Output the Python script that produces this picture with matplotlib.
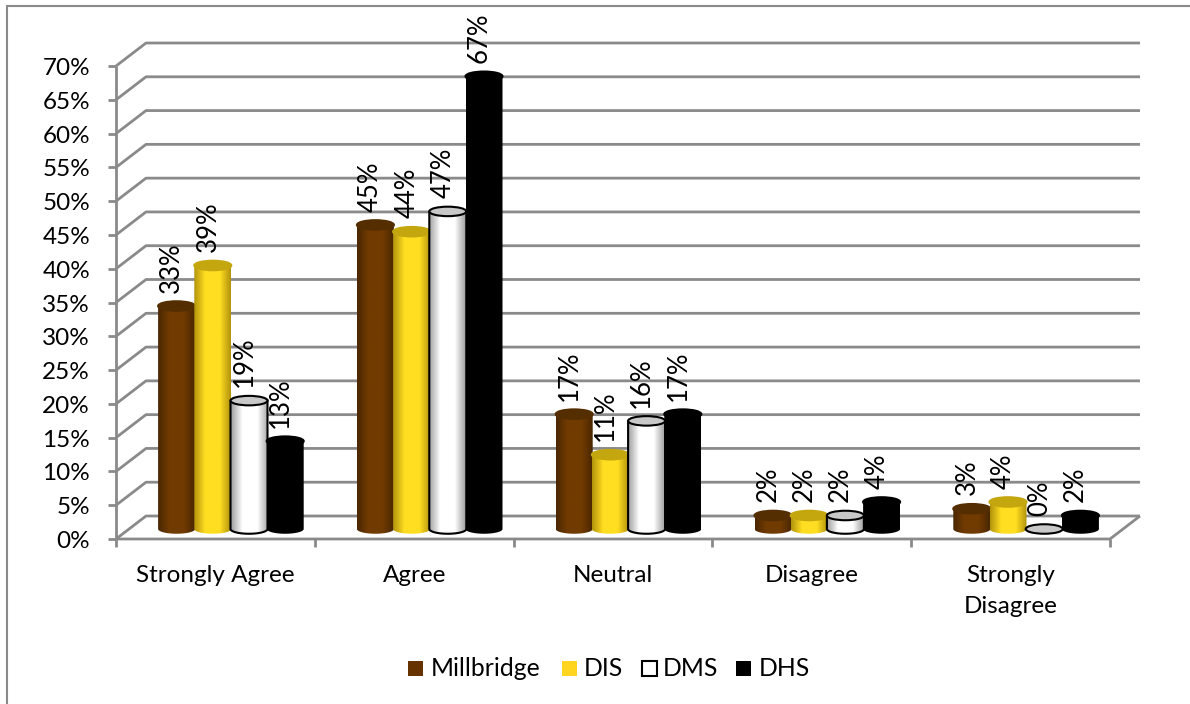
"""Survey responses by school, drawn as 3D style cylinder columns"""

import numpy as np
import matplotlib
matplotlib.use("Agg")
import matplotlib.pyplot as plt
from matplotlib.colors import LinearSegmentedColormap
from matplotlib.patches import Ellipse, PathPatch, Rectangle
from matplotlib.path import Path

categories = ["Strongly Agree", "Agree", "Neutral", "Disagree", "Strongly\nDisagree"]
series_names = ["Millbridge", "DIS", "DMS", "DHS"]
millbridge = [33, 45, 17, 2, 3]
dis = [39, 44, 11, 2, 4]
dms = [19, 47, 16, 2, 0]
dhs = [13, 67, 17, 4, 2]
y_ticks = list(range(0, 75, 5))

plt.rcParams["font.family"] = ["Lato", "DejaVu Sans"]

WIDTH, HEIGHT = 1190, 704
GRID = "#8a8a8a"
# pixel scale of the axes, one category across and one percent up
PX_X = 198.8
PX_Y = 6.757
LEFT = 116
FLOOR = 539
# offset of the back wall from the front plane
DEPTH_X = 30 / PX_X
DEPTH_Y = 23 / PX_Y
BAR_W = 37 / PX_X
BAR_STEP = 36.2 / PX_X
CAP_H = 9.5 / PX_Y
LABEL_SIZE = 17.5

# edge, middle, cap and outline colours of each series
styles = [
    ("#4a2700", "#713b00", "#552e00", None),
    ("#b3940c", "#ffde22", "#c4a60f", None),
    ("#a0a0a0", "#ffffff", "#c8c8c8", "black"),
    ("#000000", "#000000", "#000000", None),
]
# legend swatch fill, swatch edge, swatch left and text left, in pixels
legend_fills = ["#663300", "#ffd520", "white", "black"]
legend_edges = ["none", "none", "black", "none"]
legend_box_x = [408, 562, 642, 736]
legend_text_x = [431, 584, 663, 759]


def draw_cylinder(ax, x_mid, value, style):
    """Draws one column with a shaded side and an elliptical cap"""
    edge, middle, cap, outline = style
    base = DEPTH_Y / 2 - 1.5 / PX_Y
    top = value + base
    left = x_mid - BAR_W / 2
    right = x_mid + BAR_W / 2
    if value > 0:
        angle = np.linspace(np.pi, 2 * np.pi, 40)
        arc_x = x_mid + BAR_W / 2 * np.cos(angle)
        arc_y = base + CAP_H / 2 * np.sin(angle)
        verts = [(left, top)] + list(zip(arc_x, arc_y)) + [(right, top), (left, top)]
        side = Path(verts)
        cmap = LinearSegmentedColormap.from_list(
            "side", [(0, edge), (0.3, middle), (0.7, middle), (1, edge)])
        shade = ax.imshow(np.linspace(0, 1, 64).reshape(1, -1), cmap=cmap,
                          extent=(left, right, base - CAP_H, top),
                          aspect="auto", zorder=3, interpolation="bilinear")
        patch = PathPatch(side, fc="none",
                          ec=outline if outline else "none", lw=1.5, zorder=3)
        ax.add_patch(patch)
        shade.set_clip_path(patch)
    ax.add_patch(Ellipse((x_mid, top), BAR_W, CAP_H, fc=cap,
                         ec=outline if outline else cap, lw=1.5, zorder=3))


def draw_frame(ax):
    """Draws the walls, floor, gridlines and axis ticks"""
    n_cat = len(categories)
    x0, x1 = -0.5, n_cat - 0.5
    line = {"color": GRID, "lw": 2, "solid_capstyle": "butt", "zorder": 1}
    for tick in y_ticks:
        ax.plot([x0, x0 + DEPTH_X, x1 + DEPTH_X],
                [tick, tick + DEPTH_Y, tick + DEPTH_Y], **line)
        ax.plot([x0 - 8 / PX_X, x0], [tick, tick], **line)
        ax.text(x0 - 26 / PX_X, tick - 2.5 / PX_Y, f"{tick}%", ha="right",
                va="center", fontsize=LABEL_SIZE, color="black")
    ax.plot([x0, x0], [0, y_ticks[-1]], **line)
    ax.plot([x0, x1, x1 + DEPTH_X], [0, 0, DEPTH_Y], **line)
    for i in range(n_cat + 1):
        ax.plot([x0 + i, x0 + i], [0, -8 / PX_Y], **line)
    for i, name in enumerate(categories):
        ax.text(i, -26 / PX_Y, name, ha="center", va="top", fontsize=LABEL_SIZE,
                color="black", linespacing=1.6)


def draw_legend(fig):
    """Draws the row of swatches and names under the plot"""
    for i, name in enumerate(series_names):
        fig.add_artist(Rectangle(
            (legend_box_x[i] / WIDTH, 1 - 676 / HEIGHT), 15 / WIDTH, 15 / HEIGHT,
            transform=fig.transFigure, fc=legend_fills[i], ec=legend_edges[i], lw=1.5))
        fig.text(legend_text_x[i] / WIDTH, 1 - 676 / HEIGHT, name, ha="left",
                 va="baseline", fontsize=17.8, color="black")


def main():
    """Lays out the figure in pixel sized axes and saves it"""
    fig = plt.figure(figsize=(WIDTH / 100, HEIGHT / 100), dpi=100)
    ax = fig.add_axes((0, 0, 1, 1))
    ax.set_xlim(-0.5 - LEFT / PX_X, -0.5 + (WIDTH - LEFT) / PX_X)
    ax.set_ylim((FLOOR - HEIGHT) / PX_Y, FLOOR / PX_Y)
    ax.autoscale(False)
    ax.axis("off")

    # chart area border, only the top and left edges fall inside the figure
    fig.add_artist(Rectangle((6.5 / WIDTH, -0.1), 1.2, 0.1 + (HEIGHT - 6.5) / HEIGHT,
                             transform=fig.transFigure, fc="none", ec=GRID, lw=1.5))

    draw_frame(ax)

    series = [millbridge, dis, dms, dhs]
    for j, values in enumerate(series):
        for i, value in enumerate(values):
            x_mid = i + DEPTH_X / 2 + 0.5 / PX_X + (j - 1.5) * BAR_STEP
            draw_cylinder(ax, x_mid, value, styles[j])
            ax.annotate(f"{value}%", (x_mid, value + DEPTH_Y / 2),
                        xytext=(-3.5, 8.5), textcoords="offset points",
                        rotation=90, ha="center", va="bottom",
                        fontsize=18.5, color="black", zorder=5)

    draw_legend(fig)

    fig.savefig("out.png", dpi=100)


if __name__ == '__main__':
    main()
